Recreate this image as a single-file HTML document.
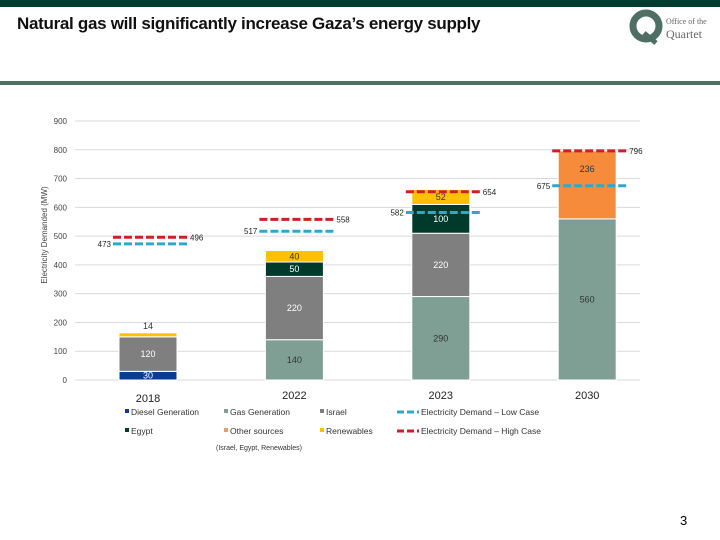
<!DOCTYPE html>
<html><head><meta charset="utf-8"><style>
body{margin:0;width:720px;height:540px;background:#fff;overflow:hidden;font-family:"Liberation Sans",sans-serif;position:relative}
.abs{position:absolute}
</style></head><body>
<div class="abs" style="left:0;top:0;width:720px;height:7px;background:#003d2e"></div>
<div class="abs" style="left:17px;top:14px;font-size:17px;font-weight:bold;color:#111;letter-spacing:-0.3px">Natural gas will significantly increase Gaza’s energy supply</div>
<div class="abs" style="left:628px;top:9px;width:86px;height:36px">
<svg width="86" height="36"><circle cx="18" cy="17" r="13" fill="none" stroke="#4f6f64" stroke-width="7"/><path d="M16 24 L28 34" stroke="#4f6f64" stroke-width="5"/><text x="38" y="15" font-size="8" fill="#666" font-family="Liberation Serif,serif">Office of the</text><text x="38" y="29" font-size="12" fill="#666" font-family="Liberation Serif,serif">Quartet</text></svg></div>
<div class="abs" style="left:0;top:81px;width:720px;height:4px;background:#4f6f64"></div>
<div class="abs" style="left:680px;top:513px;font-size:13px">3</div>
<svg id="chart" class="abs" style="left:0;top:0" width="720" height="540"></svg>
<script>
const categories=["2018","2022","2023","2030"];
const diesel=[30,0,0,0];
const gasGen=[0,140,290,560];
const israel=[120,220,220,0];
const egypt=[0,50,100,0];
const renewables=[14,40,52,0];
const other=[0,0,0,236];
const demandLow=[473,517,582,675];
const demandHigh=[496,558,654,796];
const yTicks=[0,100,200,300,400,500,600,700,800,900];
const NS="http://www.w3.org/2000/svg";
const svg=document.getElementById('chart');
const y0=380,ppu=259/900;
const yS=v=>y0-v*ppu;
const xC=i=>148+i*146.4;
function mk(t,a,txt){const e=document.createElementNS(NS,t);for(const k in a)e.setAttribute(k,a[k]);if(txt!==undefined)e.textContent=txt;svg.appendChild(e);return e;}
yTicks.forEach(v=>{
 const l=mk('line',{x1:75,x2:640,y1:yS(v),y2:yS(v),stroke:'#d9d9d9','stroke-width':1});
 
 
 const t=mk('text',{x:67,y:yS(v)+3,'font-size':8,'text-anchor':'end',fill:'#444'},v);
 
 
});
const yt=mk('text',{x:47,y:235,'font-size':8,'text-anchor':'middle',fill:'#444',transform:'rotate(-90 47 235)'},'Electricity Demanded (MW)');


const series=[[diesel,'#0b3c94','#fff','diesel'],[gasGen,'#7f9f94','#333','gas-generation'],[israel,'#7f7f7f','#fff','israel'],[egypt,'#003a2a','#fff','egypt'],[renewables,'#ffc000','#333','renewables'],[other,'#f68b3c','#333','other-sources']];
categories.forEach((c,i)=>{
 let acc=0;const bw=58,x=xC(i)-bw/2;
 series.forEach(s=>{
  const v=s[0][i];if(!v)return;
  const r=mk('rect',{x:x,y:yS(acc+v),width:bw,height:v*ppu,fill:s[1],stroke:'#fff','stroke-width':1});
  
  
  let ty=v<20?yS(acc+v)-4:yS(acc+v/2)+3;
  if(s[3]==='other-sources')ty=yS(acc+v)+21;
  const t=mk('text',{x:xC(i),y:ty,'font-size':9,'text-anchor':'middle',fill:v<20?'#333':s[2]},v);
  
  
  acc+=v;
 });
 const cl=mk('text',{x:xC(i),y:i==0?402:399,'font-size':11,'text-anchor':'middle',fill:'#222'},c);
 
 
 const x1=xC(i)-35,x2=xC(i)+40;
 const h=mk('line',{x1:x1,x2:x2,y1:yS(demandHigh[i]),y2:yS(demandHigh[i]),stroke:'#cc1f26','stroke-width':3,'stroke-dasharray':'8 3'});
 
 
 const lo=mk('line',{x1:x1,x2:x2,y1:yS(demandLow[i]),y2:yS(demandLow[i]),stroke:'#2ea7d0','stroke-width':3,'stroke-dasharray':'8 3'});
 
 
 const ht=mk('text',{x:x2+2,y:yS(demandHigh[i])+3,'font-size':8,fill:'#222'},demandHigh[i]);
 
 
 const lt=mk('text',{x:x1-2,y:yS(demandLow[i])+3,'font-size':8,'text-anchor':'end',fill:'#222'},demandLow[i]);
 
 
});
const leg=[[125,415,'#0b3c94','Diesel Generation','sq'],[224,415,'#7f9f94','Gas Generation','sq'],[320,415,'#7f7f7f','Israel','sq'],[397,415,'#2ea7d0','Electricity Demand – Low Case','ln'],[125,434,'#003a2a','Egypt','sq'],[224,434,'#e0a070','Other sources','sq'],[320,434,'#ffc000','Renewables','sq'],[397,434,'#cc1f26','Electricity Demand – High Case','ln']];
leg.forEach(l=>{
 if(l[4]=='sq'){const r=mk('rect',{x:l[0],y:l[1]-6,width:4,height:4,fill:l[2]});}
 else{const r=mk('line',{x1:l[0],x2:l[0]+22,y1:l[1]-3,y2:l[1]-3,stroke:l[2],'stroke-width':3,'stroke-dasharray':'7 3'});}
 const t=mk('text',{x:l[0]+(l[4]=='sq'?6:24),y:l[1]-0,'font-size':8.5,fill:'#333'},l[3]);
 
 
});
const sub=mk('text',{x:216,y:450,'font-size':7,fill:'#333'},'(Israel, Egypt, Renewables)');


</script>
</body></html>
